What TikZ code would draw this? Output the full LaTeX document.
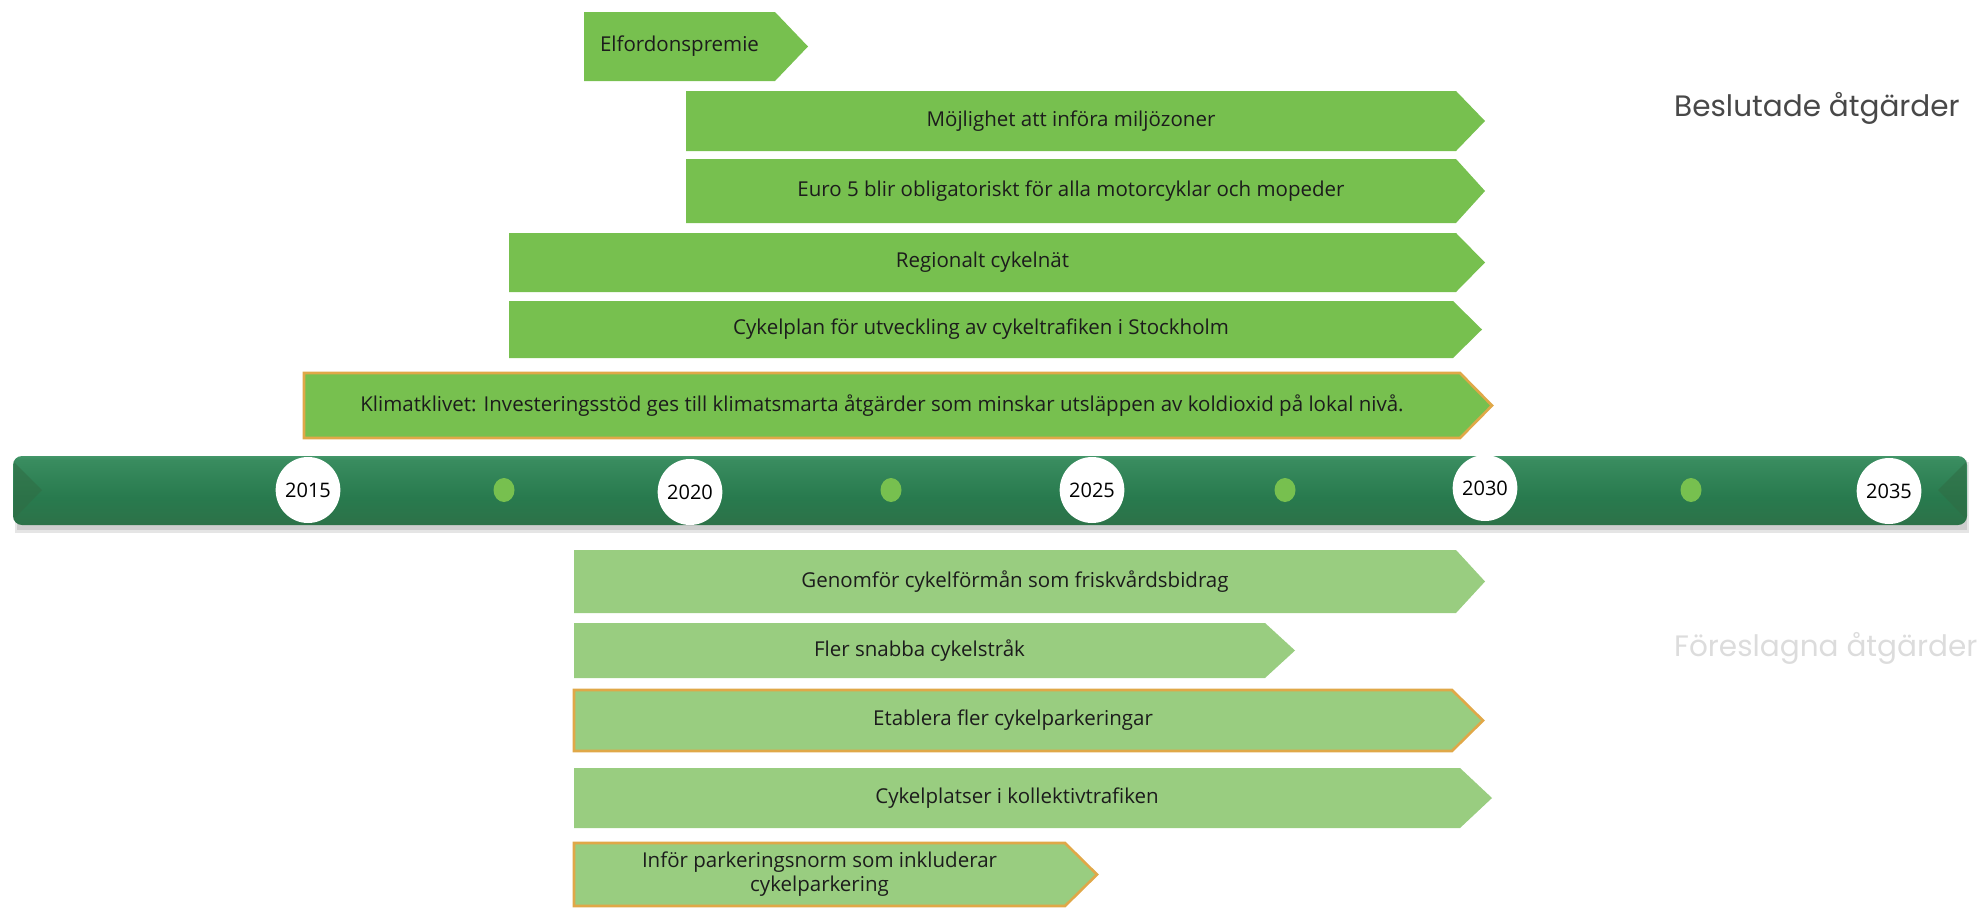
\documentclass[tikz,border=0pt]{standalone}
\usepackage{fontspec}
\setmainfont{Open Sans}
\newfontfamily\headfont{Poppins}
\usetikzlibrary{shapes.geometric}

\definecolor{decided}{RGB}{119,192,79}
\definecolor{proposed}{RGB}{153,205,128}
\definecolor{rim}{RGB}{224,168,72}
\definecolor{barlight}{RGB}{108,194,146}
\definecolor{barmid}{RGB}{40,122,78}
\definecolor{bardark}{RGB}{48,108,68}
\definecolor{inktext}{RGB}{28,28,28}
\definecolor{headdark}{RGB}{72,72,72}
\definecolor{headlight}{RGB}{220,220,220}

\pgfdeclareverticalshading{barshade}{100bp}{%
  color(0bp)=(bardark); color(12bp)=(bardark); color(45bp)=(barmid);
  color(72bp)=(barmid!75!barlight); color(88bp)=(barlight); color(100bp)=(barlight)}

\tikzset{
  decidedbox/.style={fill=decided},
  proposedbox/.style={fill=proposed},
  rimmed/.style={draw=rim, line width=2.6pt, line join=miter},
  boxtext/.style={font=\fontsize{20.5}{24}\selectfont, text=inktext, align=center, inner sep=0pt},
  yearmark/.style={ellipse, fill=white, minimum width=60pt, minimum height=66pt, inner sep=0pt,
    font=\fontsize{20}{24}\selectfont, text=black},
  halfmark/.style={ellipse, fill=decided, minimum width=21pt, minimum height=24pt, inner sep=0pt},
  headtext/.style={font=\headfont\fontsize{29.5}{34}\selectfont, anchor=west, inner sep=0pt},
}

% #1 name, #2 left, #3 top, #4 bottom, #5 end of body, #6 tip, #7 style, #8 text
\newcommand{\measurebox}[8]{%
  \path[#7] (#2,#3) -- (#5,#3) -- (#6,{(#3+#4)/2}) -- (#5,#4) -- (#2,#4) -- cycle;
  \node[boxtext] (#1) at ({(#2+#5)/2},{(#3+#4)/2}) {#8};
}

\begin{document}
\begin{tikzpicture}[x=1pt,y=-1pt]
\useasboundingbox (0,0) rectangle (1977,908);

% decided measures
\measurebox{elbonus}{584}{12}{81}{775}{808}{decidedbox}{Elfordonspremie}
\measurebox{envzones}{686}{91}{151}{1456}{1485}{decidedbox}{Möjlighet att införa miljözoner}
\measurebox{eurofive}{686}{159}{223}{1456}{1485}{decidedbox}{Euro 5 blir obligatoriskt för alla motorcyklar och mopeder}
\measurebox{regnet}{509}{233}{292}{1456}{1485}{decidedbox}{Regionalt cykelnät}
\measurebox{cycleplan}{509}{301}{358}{1453}{1482}{decidedbox}{Cykelplan  för utveckling av cykeltrafiken i Stockholm}
\measurebox{climate}{304}{373}{438}{1460}{1492}{decidedbox,rimmed}{Klimatklivet: Investeringsstöd ges till klimatsmarta åtgärder som minskar utsläppen av koldioxid  på lokal  nivå.}

% timeline bar with soft shadow and bevelled ends
\fill[black, opacity=0.10] (15,462) rectangle (1969,533);
\fill[black, opacity=0.10] (17,460) rectangle (1967,530);
\path[shading=barshade, rounded corners=9pt] (13,456) rectangle (1967,525);
\fill[bardark, opacity=0.55] (14,462) -- (42,490) -- (14,519) -- cycle;
\fill[bardark, opacity=0.55] (1966,462) -- (1938,490) -- (1966,519) -- cycle;

\node[yearmark] (y2015) at (308,490) {2015};
\node[halfmark] (h2017) at (504,490) {};
\node[yearmark] (y2020) at (690,492) {2020};
\node[halfmark] (h2022) at (891,490) {};
\node[yearmark] (y2025) at (1092,490) {2025};
\node[halfmark] (h2027) at (1285,490) {};
\node[yearmark] (y2030) at (1485,488) {2030};
\node[halfmark] (h2032) at (1691,490) {};
\node[yearmark] (y2035) at (1889,491) {2035};

% proposed measures
\measurebox{cyclebenefit}{574}{550}{613}{1456}{1485}{proposedbox}{Genomför cykelförmån som friskvårdsbidrag}
\measurebox{fastroutes}{574}{623}{678}{1265}{1295}{proposedbox}{Fler snabba cykelstråk}
\measurebox{moreparking}{574}{690}{751}{1452}{1483}{proposedbox,rimmed}{Etablera fler cykelparkeringar}
\measurebox{transitbikes}{574}{768}{828}{1460}{1492}{proposedbox}{Cykelplatser i kollektivtrafiken}
\measurebox{parkingnorm}{574}{843}{906}{1065}{1097}{proposedbox,rimmed}{Inför parkeringsnorm som inkluderar\\cykelparkering}

% category headings
\node[headtext, text=headdark] (decidedhead) at (1674,108) {Beslutade åtgärder};
\node[headtext, text=headlight] (proposedhead) at (1674,648) {Föreslagna åtgärder};
\end{tikzpicture}
\end{document}
